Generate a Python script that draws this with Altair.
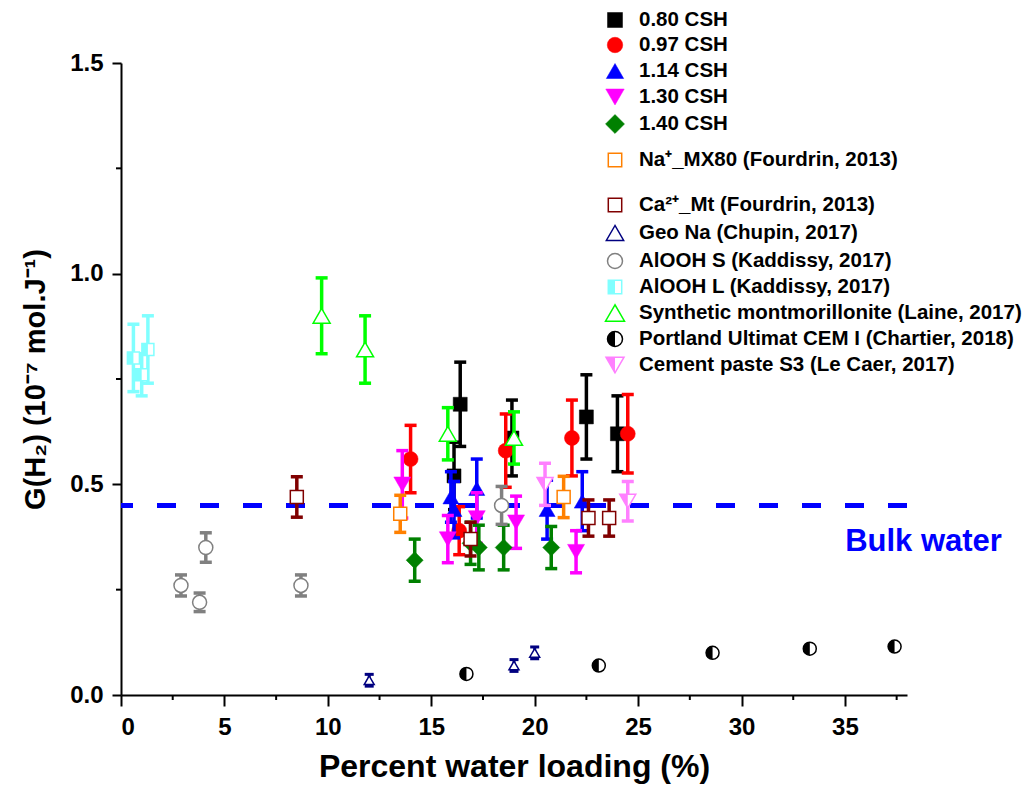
import altair as alt
import pandas as pd

# ---------------- data ----------------
labels = [
    "0.80 CSH", "0.97 CSH", "1.14 CSH", "1.30 CSH", "1.40 CSH",
    "Na\u207a_MX80 (Fourdrin, 2013)",
    "Ca\u00b2\u207a_Mt (Fourdrin, 2013)",
    "Geo Na (Chupin, 2017)",
    "AlOOH S (Kaddissy, 2017)",
    "AlOOH L (Kaddissy, 2017)",
    "Synthetic montmorillonite (Laine, 2017)",
    "Portland Ultimat CEM I (Chartier, 2018)",
    "Cement paste S3 (Le Caer, 2017)",
]

csh080_x = [16.4, 16.1, 18.9, 22.5, 24.0]
csh080_y = [0.69, 0.52, 0.61, 0.66, 0.62]
csh080_e = [0.10, 0.08, 0.09, 0.10, 0.09]

csh097_x = [14.0, 16.35, 18.6, 21.8, 24.5]
csh097_y = [0.56, 0.39, 0.58, 0.61, 0.62]
csh097_e = [0.08, 0.057, 0.087, 0.09, 0.093]

csh114_x = [15.95, 16.1, 17.2, 20.6, 22.3]
csh114_y = [0.47, 0.44, 0.49, 0.44, 0.46]
csh114_e = [0.06, 0.067, 0.07, 0.07, 0.07]

csh130_x = [13.6, 15.8, 17.2, 19.1, 22.0]
csh130_y = [0.50, 0.37, 0.42, 0.41, 0.34]
csh130_e = [0.08, 0.056, 0.06, 0.062, 0.05]

csh140_x = [14.2, 16.9, 17.3, 18.5, 20.8]
csh140_y = [0.32, 0.36, 0.35, 0.35, 0.35]
csh140_e = [0.05, 0.05, 0.053, 0.053, 0.05]

na_x = [13.5, 21.4]
na_y = [0.43, 0.47]
na_e = [0.044, 0.049]

ca_x = [8.5, 16.9, 22.6, 23.6]
ca_y = [0.47, 0.37, 0.42, 0.42]
ca_e = [0.048, 0.04, 0.043, 0.043]

geo_x = [12.0, 19.0, 20.0]
geo_y = [0.035, 0.07, 0.10]
geo_e = [0.014, 0.014, 0.014]

alS_x = [2.9, 3.8, 4.1, 8.7, 18.4]
alS_y = [0.26, 0.22, 0.35, 0.26, 0.45]
alS_e = [0.025, 0.022, 0.035, 0.025, 0.045]

alL_x = [0.6, 1.0, 1.3]
alL_y = [0.80, 0.76, 0.82]
alL_e = [0.08, 0.05, 0.08]

syn_x = [9.7, 11.8, 15.8, 19.0]
syn_y = [0.90, 0.82, 0.62, 0.61]
syn_e = [0.09, 0.08, 0.062, 0.062]

port_x = [16.7, 23.1, 28.6, 33.3, 37.4]
port_y = [0.05, 0.07, 0.10, 0.11, 0.115]
port_e = [0.0, 0.0, 0.0, 0.0, 0.0]

cem_x = [20.5, 24.5]
cem_y = [0.50, 0.46]
cem_e = [0.05, 0.047]

bulk_water = [0.45]
bulk_label = ["Bulk water"]
bulk_label_x = [38.8]
bulk_label_y = [0.363]

x_major = [0, 5, 10, 15, 20, 25, 30, 35]
x_minor = [2.5, 7.5, 12.5, 17.5, 22.5, 27.5, 32.5, 37.5]
y_major = [0.0, 0.5, 1.0, 1.5]
y_minor = [0.25, 0.75, 1.25]

series_data = [
    (csh080_x, csh080_y, csh080_e), (csh097_x, csh097_y, csh097_e),
    (csh114_x, csh114_y, csh114_e), (csh130_x, csh130_y, csh130_e),
    (csh140_x, csh140_y, csh140_e), (na_x, na_y, na_e), (ca_x, ca_y, ca_e),
    (geo_x, geo_y, geo_e), (alS_x, alS_y, alS_e), (alL_x, alL_y, alL_e),
    (syn_x, syn_y, syn_e), (port_x, port_y, port_e), (cem_x, cem_y, cem_e),
]

# ---------------- styles / layout ----------------
HALF_SQ = "M-1,-1L0,-1L0,1L-1,1Z"
HALF_CIRC = "M0,-1A1,1,0,0,0,0,1Z"
HALF_TRI_DOWN = "M-1,-0.866L0,-0.866L0,0.866Z"

styles = [
    dict(color="#000000", shape="square", kind="filled", size=196, lsize=225),
    dict(color="#FF0000", shape="circle", kind="filled", size=225, lsize=240),
    dict(color="#0000FF", shape="triangle-up", kind="filled", size=256, lsize=300),
    dict(color="#FF00FF", shape="triangle-down", kind="filled", size=289, lsize=340),
    dict(color="#008000", shape="diamond", kind="filled", size=289, lsize=360),
    dict(color="#FF8000", shape="square", kind="open", size=169, lsize=180),
    dict(color="#800000", shape="square", kind="open", size=169, lsize=180),
    dict(color="#000080", shape="triangle-up", kind="open", size=100, lsize=300),
    dict(color="#808080", shape="circle", kind="open", size=196, lsize=225),
    dict(color="#80FFFF", shape="square", kind="half", half=HALF_SQ, size=144, lsize=180),
    dict(color="#00FF00", shape="triangle-up", kind="open", size=289, lsize=361),
    dict(color="#000000", shape="circle", kind="half", half=HALF_CIRC, size=169, lsize=225),
    dict(color="#FF80FF", shape="triangle-down", kind="half", half=HALF_TRI_DOWN, size=256, lsize=324),
]

legend_row_y = [20, 45, 71, 97, 124, 160, 205, 233, 261, 287, 313, 339, 365]
PLOT_TOP = 63
PLOT_LEFT = 121
LEG_SYM_X = 615
LEG_TXT_X = 639

W, H = 786, 632
FONT = "Liberation Sans"

xscale = alt.Scale(domain=[0, 38], nice=False, zero=False)
yscale = alt.Scale(domain=[0, 1.5], nice=False, zero=False)
x_title = "Percent water loading (%)"
y_title = "G(H\u2082) (10\u207b\u2077 mol.J\u207b\u00b9)"

xaxis = alt.Axis(values=x_major, format="d", grid=False, tickSize=11, tickWidth=2,
                 tickColor="black", domainColor="black", domainWidth=2,
                 labelFont=FONT, labelFontSize=24, labelFontWeight="bold",
                 labelColor="black", labelPadding=9,
                 titleFont=FONT, titleFontSize=32, titleFontWeight="bold",
                 titleColor="black", titleBaseline="alphabetic", titleY=81,
                 titleX=W / 2)
yaxis = alt.Axis(values=y_major, format=".1f", grid=False, tickSize=9, tickWidth=2,
                 tickColor="black", domainColor="black", domainWidth=2,
                 labelFont=FONT, labelFontSize=24, labelFontWeight="bold",
                 labelColor="black", labelPadding=9,
                 titleFont=FONT, titleFontSize=29, titleFontWeight="bold",
                 titleColor="black", titleBaseline="alphabetic",
                 titleX=-77, titleY=H / 2)


def X(field):
    return alt.X(field, type="quantitative", scale=xscale, axis=xaxis, title=x_title)


def Y(field):
    return alt.Y(field, type="quantitative", scale=yscale, axis=yaxis, title=y_title)


layers = []

# minor ticks (positioned through the scales)
layers.append(
    alt.Chart(pd.DataFrame({"m": x_minor})).mark_rule(color="black", strokeWidth=2)
    .encode(x=X("m"), y=alt.value(H), y2=alt.value(H + 5))
)
layers.append(
    alt.Chart(pd.DataFrame({"m": y_minor})).mark_rule(color="black", strokeWidth=2)
    .encode(y=Y("m"), x=alt.value(0), x2=alt.value(-5))
)

# bulk water reference line
layers.append(
    alt.Chart(pd.DataFrame({"g": bulk_water})).mark_rule(
        color="#0000FF", strokeWidth=5, strokeDash=[19, 24])
    .encode(y=Y("g"))
)

BAR_W = 3.5
CAP = 12

for i, (xs, ys, es) in enumerate(series_data):
    st = styles[i]
    c = st["color"]
    df = pd.DataFrame({"x": xs, "y": ys, "e": es})
    df["lo"] = df["y"] - df["e"]
    df["hi"] = df["y"] + df["e"]
    dfe = df[df["e"] > 0]
    if len(dfe):
        bw = 3 if st["size"] <= 100 else BAR_W
        cap = 9 if st["size"] <= 100 else CAP
        b = alt.Chart(dfe)
        layers.append(b.mark_rule(color=c, strokeWidth=bw, opacity=1)
                      .encode(x=X("x"), y=Y("lo"), y2="hi:Q"))
        layers.append(b.mark_tick(orient="horizontal", color=c, size=cap,
                                  thickness=bw, opacity=1)
                      .encode(x=X("x"), y=Y("lo")))
        layers.append(b.mark_tick(orient="horizontal", color=c, size=cap,
                                  thickness=bw, opacity=1)
                      .encode(x=X("x"), y=Y("hi")))
    m = alt.Chart(df)
    if st["kind"] == "filled":
        layers.append(m.mark_point(shape=st["shape"], size=st["size"], filled=True,
                                   fill=c, stroke=c, strokeWidth=0.5, opacity=1)
                      .encode(x=X("x"), y=Y("y")))
    else:
        layers.append(m.mark_point(shape=st["shape"], size=st["size"], filled=True,
                                   fill="white", stroke=c, strokeWidth=1.5, opacity=1)
                      .encode(x=X("x"), y=Y("y")))
        if st["kind"] == "half":
            layers.append(m.mark_point(shape=st["half"], size=st["size"], filled=True,
                                       fill=c, strokeWidth=0, opacity=1)
                          .encode(x=X("x"), y=Y("y")))

# bulk water label
layers.append(
    alt.Chart(pd.DataFrame({"t": bulk_label, "x": bulk_label_x, "y": bulk_label_y}))
    .mark_text(font=FONT, fontSize=31, fontWeight="bold", color="#0000FF",
               align="center", baseline="middle")
    .encode(x=X("x"), y=Y("y"), text="t:N")
)

# legend (drawn manually to reproduce the half-filled symbols)
for i, lab in enumerate(labels):
    st = styles[i]
    c = st["color"]
    ly = legend_row_y[i] - PLOT_TOP
    lx = LEG_SYM_X - PLOT_LEFT
    one = alt.Chart(pd.DataFrame({"label": [lab]}))
    if st["kind"] == "filled":
        layers.append(one.mark_point(shape=st["shape"], size=st["lsize"], filled=True,
                                     fill=c, stroke=c, strokeWidth=0.5, opacity=1)
                      .encode(x=alt.value(lx), y=alt.value(ly)))
    else:
        layers.append(one.mark_point(shape=st["shape"], size=st["lsize"], filled=True,
                                     fill="white", stroke=c, strokeWidth=1.5, opacity=1)
                      .encode(x=alt.value(lx), y=alt.value(ly)))
        if st["kind"] == "half":
            layers.append(one.mark_point(shape=st["half"], size=st["lsize"], filled=True,
                                         fill=c, strokeWidth=0, opacity=1)
                          .encode(x=alt.value(lx), y=alt.value(ly)))
    layers.append(one.mark_text(font=FONT, fontSize=20.5, fontWeight="bold", color="black",
                                align="left", baseline="middle")
                  .encode(x=alt.value(LEG_TXT_X - PLOT_LEFT), y=alt.value(ly),
                          text="label:N"))

chart = alt.layer(*layers).properties(
    width=W, height=H,
    autosize=alt.AutoSizeParams(type="none"),
    padding={"left": 113, "top": 55, "right": 117, "bottom": 90},
    background="white",
).configure_view(stroke=None)

chart.save("out.html", embed_options={"renderer": "svg", "actions": False})
